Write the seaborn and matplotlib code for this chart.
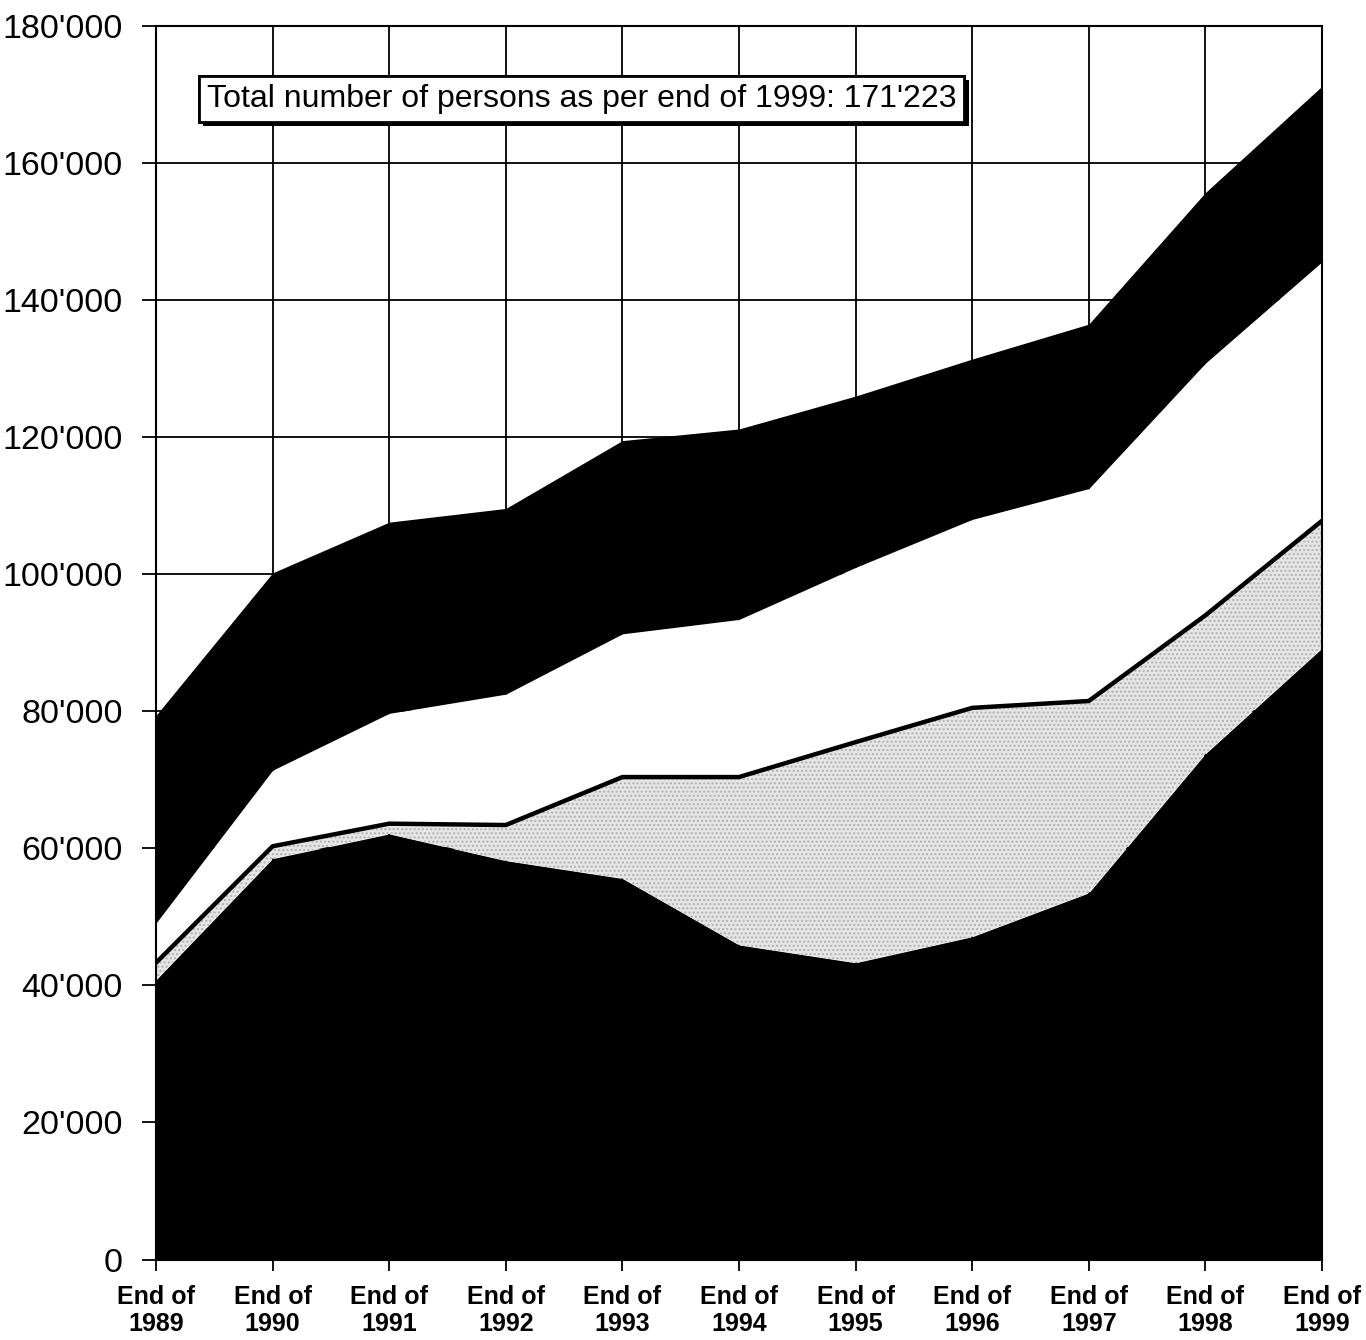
import matplotlib
matplotlib.use("Agg")
import matplotlib.pyplot as plt
import matplotlib.patheffects as pe
import matplotlib.ticker as mticker
import seaborn as sns
import numpy as np
import pandas as pd
from matplotlib import font_manager

# ---- data ----
years = [1989, 1990, 1991, 1992, 1993, 1994, 1995, 1996, 1997, 1998, 1999]
tick_labels = [f"End of\n{y}" for y in years]
series_bottom_black = [40800, 58500, 62100, 58200, 55600, 45900, 43300, 47100, 53500, 73800, 89200]
series_gray = [2500, 1800, 1500, 5200, 14800, 24500, 32200, 33400, 28000, 20200, 18600]
series_white = [5800, 11100, 16100, 19100, 20900, 23000, 25500, 27500, 31000, 36800, 37800]
series_top_black = [30300, 28800, 27900, 27100, 28200, 27800, 25000, 23400, 24000, 24900, 25623]
annotation = "Total number of persons as per end of 1999: 171'223"

sns.set_theme(style="white")
installed = {f.name for f in font_manager.fontManager.ttflist}
base_font = "Liberation Sans" if "Liberation Sans" in installed else "DejaVu Sans"
narrow_font = "Liberation Sans Narrow" if "Liberation Sans Narrow" in installed else base_font
plt.rcParams["font.family"] = [base_font, "DejaVu Sans"]
for k in ("text.color", "axes.labelcolor", "xtick.color", "ytick.color"):
    plt.rcParams[k] = "black"
plt.rcParams["hatch.linewidth"] = 1.0

fig = plt.figure(figsize=(13.66, 13.40), dpi=100)
ax = fig.add_axes([156 / 1366, (1340 - 1259.5) / 1340, 1166 / 1366, (1259.5 - 26) / 1340])

x = np.arange(len(years))
ax.set_axisbelow(True)
ax.grid(True, color="black", linewidth=1.3)
polys = ax.stackplot(x, series_bottom_black, series_gray, series_white, series_top_black,
                     colors=["black", "#e6e6e6", "white", "black"], linewidth=0, zorder=2)
polys[1].set_hatch("....")
polys[1].set_edgecolor("#b0b0b0")
polys[1].set_linewidth(0)

boundary = pd.DataFrame({"x": x, "y": np.array(series_bottom_black) + np.array(series_gray)})
sns.lineplot(data=boundary, x="x", y="y", color="black", linewidth=3.2, ax=ax, zorder=3)

ax.set_xlim(0, 10)
ax.set_ylim(0, 180000)
ax.set_xticks(x)
ax.set_xticklabels(tick_labels, fontsize=18, fontweight="bold", linespacing=1.2)
ax.yaxis.set_major_locator(mticker.MultipleLocator(20000))
ax.yaxis.set_major_formatter(mticker.FuncFormatter(lambda v, p: f"{int(v):,}".replace(",", "'")))
ax.tick_params(axis="y", labelsize=24.5, length=10, width=1.3, direction="out", pad=14, left=True, colors="black")
ax.tick_params(axis="x", length=8, width=1.3, direction="out", pad=10, bottom=True, colors="black")
ax.set_xlabel("")
ax.set_ylabel("")
for s in ax.spines.values():
    s.set_color("black")
    s.set_linewidth(1.5)
    s.set_zorder(5)

t = ax.text(0.0437, 0.9408, annotation, transform=ax.transAxes, fontsize=23, color="black",
            family=[narrow_font, "DejaVu Sans"], va="center", ha="left", zorder=6,
            bbox=dict(boxstyle="square,pad=0.25", fc="white", ec="black", lw=2))
t.get_bbox_patch().set_path_effects([
    pe.withSimplePatchShadow(offset=(3, -3), shadow_rgbFace="black", alpha=1.0),
    pe.Normal()])

fig.savefig("out.png", dpi=100)
